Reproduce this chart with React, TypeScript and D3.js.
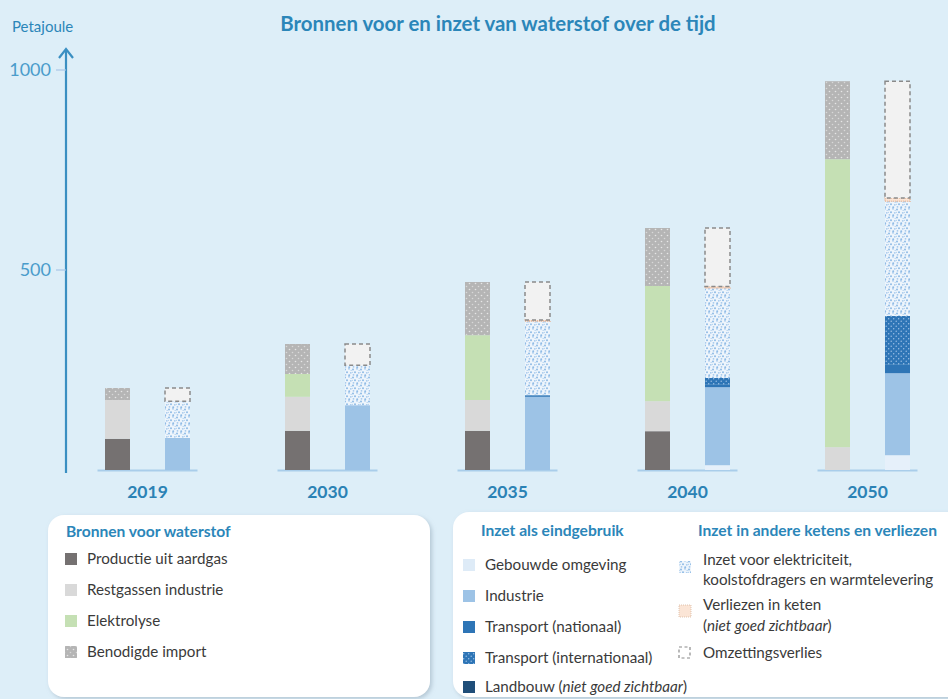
import React from "react";
import * as d3 from "d3";

const years = ["2019", "2030", "2035", "2040", "2050"];

// Bronnen voor waterstof (PJ)
const aardgas = [78, 98, 98, 97, 0];
const restgassen = [97, 85, 77, 75, 57];
const elektrolyse = [0, 57, 162, 288, 720];
const importH2 = [30, 75, 133, 145, 195];

// Inzet (PJ)
const gebouwd = [0, 0, 0, 12, 37];
const industrie = [80, 162, 183, 195, 205];
const transportNat = [0, 0, 4, 6, 21];
const transportInt = [0, 0, 0, 17, 122];
const landbouw = [0, 0, 0, 0, 0];
const inzetElek = [92, 100, 185, 225, 287];
const verliezen = [0, 0, 3, 4, 8];
const omzetting = [33, 53, 95, 146, 292];

const yTicks = [500, 1000];

const W = 948;
const H = 699;
const FONT = "Lato, 'Open Sans', sans-serif";
const BLUE = "#2b86b9";
const TXT = "#3a3a3a";

type Seg = { key: string; values: number[]; fill: string; stroke?: string; dash?: string };

const sourceSegs: Seg[] = [
  { key: "aardgas", values: aardgas, fill: "#757171" },
  { key: "restgassen", values: restgassen, fill: "#d9d9d9" },
  { key: "elektrolyse", values: elektrolyse, fill: "#c5e0b4" },
  { key: "import", values: importH2, fill: "url(#pImport)" },
];

const useSegs: Seg[] = [
  { key: "gebouwd", values: gebouwd, fill: "#e6f0fa" },
  { key: "industrie", values: industrie, fill: "#9dc3e6" },
  { key: "transportNat", values: transportNat, fill: "#2e75b6" },
  { key: "transportInt", values: transportInt, fill: "url(#pTrans)" },
  { key: "landbouw", values: landbouw, fill: "#1f4e79" },
  { key: "inzetElek", values: inzetElek, fill: "url(#pElek)" },
  { key: "verliezen", values: verliezen, fill: "#fbe5d6", stroke: "#e8b89a", dash: "1,1" },
  { key: "omzetting", values: omzetting, fill: "#f2f2f2", stroke: "#8a8a8a", dash: "4,3" },
];

export default function App() {
  const x = d3.scaleBand<string>().domain(years).range([57.5, 957.5]).padding(0);
  const y = d3.scaleLinear().domain([0, 1000]).range([470, 70]);
  const bw = 25;
  const off = 30;

  const stackRects = (segs: Seg[], i: number, cx: number) => {
    let acc = 0;
    const out: React.ReactNode[] = [];
    segs.forEach((s) => {
      const v = s.values[i];
      if (v <= 0) return;
      const y0 = y(acc);
      const y1 = y(acc + v);
      acc += v;
      out.push(
        <rect
          key={s.key}
          x={cx - bw / 2}
          y={y1}
          width={bw}
          height={y0 - y1}
          fill={s.fill}
          stroke={s.stroke || "none"}
          strokeWidth={s.stroke ? 1.5 : 0}
          strokeDasharray={s.dash}
        />
      );
    });
    return out;
  };

  const leftItems = [
    { label: "Productie uit aardgas", fill: "#757171" },
    { label: "Restgassen industrie", fill: "#d9d9d9" },
    { label: "Elektrolyse", fill: "#c5e0b4" },
    { label: "Benodigde import", fill: "url(#pImport)" },
  ];
  const midItems = [
    { label: "Gebouwde omgeving", fill: "#deebf7", it: "" },
    { label: "Industrie", fill: "#9dc3e6", it: "" },
    { label: "Transport (nationaal)", fill: "#2e75b6", it: "" },
    { label: "Transport (internationaal)", fill: "url(#pTrans)", it: "" },
    { label: "Landbouw (", fill: "#1f4e79", it: "niet goed zichtbaar" },
  ];
  const midY = [565, 596, 627, 658, 687];
  const leftY = [559, 590, 621, 652];
  const FS = 15.2;

  return (
    <svg width={W} height={H} style={{ position: "absolute", left: 0, top: 0 }} fontFamily={FONT}>
      <defs>
        <pattern id="pImport" width="6" height="6" patternUnits="userSpaceOnUse">
          <rect width="6" height="6" fill="#b5b5b5" />
          <circle cx="1.5" cy="1.5" r="0.8" fill="#e6e6e6" />
          <circle cx="4.5" cy="4.5" r="0.8" fill="#d8d8d8" />
        </pattern>
        <pattern id="pTrans" width="5" height="5" patternUnits="userSpaceOnUse">
          <rect width="5" height="5" fill="#2e75b6" />
          <circle cx="1.2" cy="1.2" r="0.7" fill="#9fc3e8" />
          <circle cx="3.7" cy="3.7" r="0.7" fill="#9fc3e8" />
        </pattern>
        <pattern id="pElek" width="8" height="8" patternUnits="userSpaceOnUse">
          <rect width="8" height="8" fill="#eef5fc" />
          <circle cx="1" cy="1.5" r="1" fill="#8fbbe6" />
          <circle cx="5" cy="0.8" r="0.9" fill="#a6c9ec" />
          <circle cx="3" cy="4.2" r="1" fill="#8fbbe6" />
          <circle cx="6.8" cy="4.8" r="0.9" fill="#a6c9ec" />
          <circle cx="1.5" cy="6.8" r="0.9" fill="#a6c9ec" />
          <circle cx="5.2" cy="7.2" r="1" fill="#8fbbe6" />
          <circle cx="7.2" cy="2.4" r="0.7" fill="#b4d2ef" />
          <circle cx="0.3" cy="4.4" r="0.7" fill="#b4d2ef" />
        </pattern>
        <filter id="shadow" x="-5%" y="-10%" width="115%" height="130%">
          <feDropShadow dx="2" dy="2" stdDeviation="2" floodColor="#8aa0b0" floodOpacity="0.5" />
        </filter>
      </defs>

      <rect width={W} height={H} fill="#ddeef8" />

      {/* Title */}
      <text x={498} y={31} textAnchor="middle" fontSize={20.4} fontWeight="bold" fill={BLUE}>
        Bronnen voor en inzet van waterstof over de tijd
      </text>

      {/* Y axis */}
      <text x={12} y={32} fontSize={15} fill={BLUE}>Petajoule</text>
      <line x1={66} x2={66} y1={50} y2={473} stroke="#3a8fc2" strokeWidth={2.2} />
      <path d="M59,58 L66,49 L73,58" fill="none" stroke="#3a8fc2" strokeWidth={2.2} />
      {yTicks.map((t) => (
        <g key={t}>
          <text x={51} y={y(t) + 6} textAnchor="end" fontSize={18} fill="#4a9ccb">
            {t}
          </text>
          <line x1={56} x2={66} y1={y(t)} y2={y(t)} stroke="#a9c6e8" strokeWidth={1.2} />
        </g>
      ))}

      {/* Bars */}
      {years.map((yr, i) => {
        const c = (x(yr) as number) + x.bandwidth() / 2;
        return (
          <g key={yr}>
            <line x1={c - 50} x2={c + 50} y1={470.5} y2={470.5} stroke="#a9cdea" strokeWidth={2} />
            {stackRects(sourceSegs, i, c - off)}
            {stackRects(useSegs, i, c + off)}
            <text x={c} y={498} textAnchor="middle" fontSize={17.5} fontWeight="bold" fill="#2b82b5">
              {yr}
            </text>
          </g>
        );
      })}

      {/* Legend left */}
      <rect x={48} y={515} width={382} height={182} rx={16} fill="#ffffff" filter="url(#shadow)" />
      <text x={66} y={537} fontSize={15.6} fontWeight="bold" fill={BLUE}>Bronnen voor waterstof</text>
      {leftItems.map((it, k) => (
        <g key={it.label}>
          <rect x={65} y={leftY[k] - 6} width={12} height={12} fill={it.fill} />
          <text x={87} y={leftY[k] + 5} fontSize={FS} fill={TXT}>{it.label}</text>
        </g>
      ))}

      {/* Legend right */}
      <rect x={453} y={512} width={520} height={185} rx={16} fill="#ffffff" filter="url(#shadow)" />
      <text x={481} y={536} fontSize={15.6} fontWeight="bold" fill={BLUE}>Inzet als eindgebruik</text>
      {midItems.map((it, k) => (
        <g key={it.label}>
          <rect x={463} y={midY[k] - 6} width={12} height={12} fill={it.fill} />
          <text x={485} y={midY[k] + 5} fontSize={FS} fill={TXT}>
            {it.label}
            {it.it ? (
              <>
                <tspan fontStyle="italic">{it.it}</tspan>
                <tspan>)</tspan>
              </>
            ) : null}
          </text>
        </g>
      ))}

      <text x={698} y={536} fontSize={15.6} fontWeight="bold" fill={BLUE}>Inzet in andere ketens en verliezen</text>
      <rect x={679} y={561} width={12} height={12} fill="url(#pElek)" />
      <text x={703} y={565} fontSize={FS} fill={TXT}>Inzet voor elektriciteit,</text>
      <text x={703} y={585} fontSize={FS} fill={TXT}>koolstofdragers en warmtelevering</text>
      <rect x={679} y={605} width={12} height={12} fill="#fbe5d6" stroke="#d9b8a0" strokeWidth={0.8} strokeDasharray="1,1" />
      <text x={703} y={610} fontSize={FS} fill={TXT}>Verliezen in keten</text>
      <text x={703} y={631} fontSize={FS} fill={TXT}>
        (<tspan fontStyle="italic">niet goed zichtbaar</tspan>)
      </text>
      <rect x={679} y={647} width={11} height={11} fill="#ffffff" stroke="#8a8a8a" strokeWidth={1.2} strokeDasharray="3,2.5" />
      <text x={703} y={658} fontSize={FS} fill={TXT}>Omzettingsverlies</text>
    </svg>
  );
}
